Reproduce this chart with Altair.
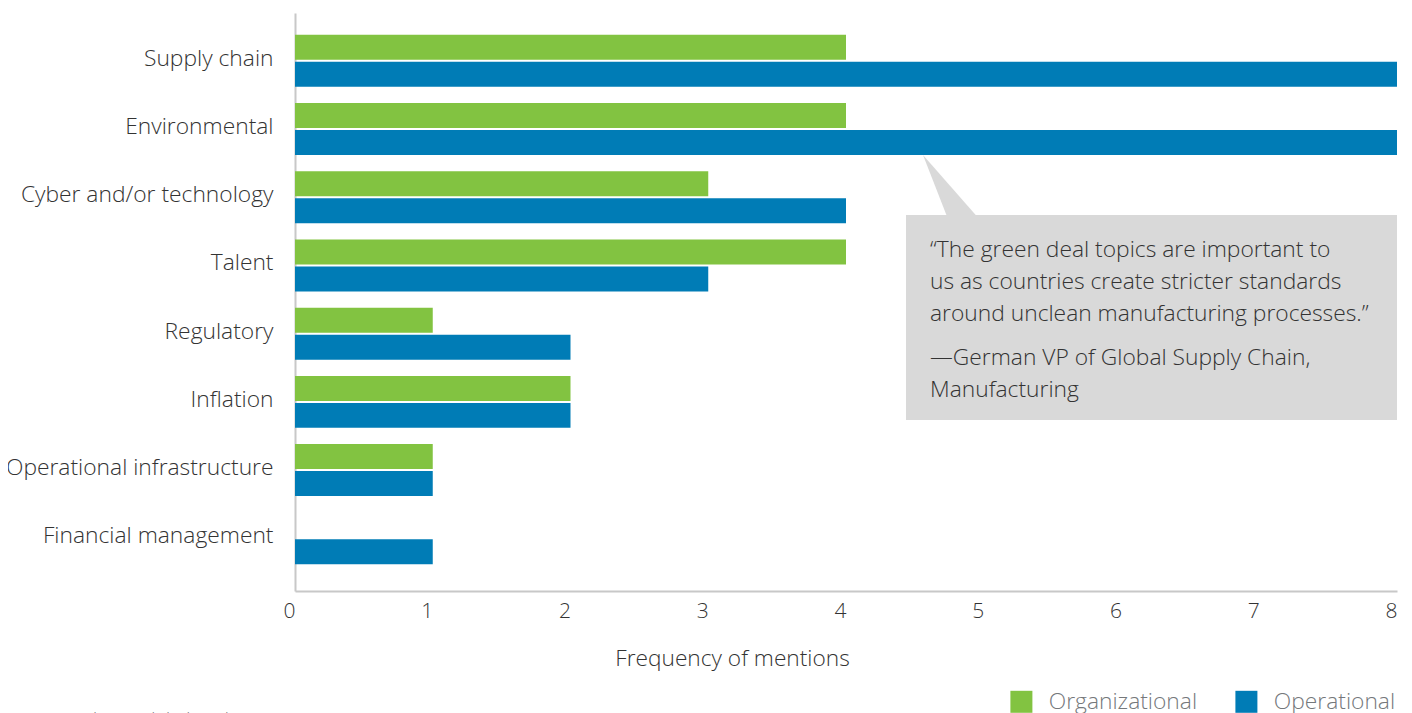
import altair as alt
import pandas as pd

categories = ["Supply chain", "Environmental", "Cyber and/or technology", "Talent",
              "Regulatory", "Inflation", "Operational infrastructure", "Financial management"]
organizational = [4, 4, 3, 4, 1, 2, 1, 0]
operational = [8, 8, 4, 3, 2, 2, 1, 1]
series = ["Organizational", "Operational"]
colors = ["#82c341", "#007cb6"]
x_ticks = [0, 1, 2, 3, 4, 5, 6, 7, 8]

quote_lines = ["“The green deal topics are important to",
               "us as countries create stricter standards",
               "around unclean manufacturing processes.”"]
attribution_lines = ["—German VP of Global Supply Chain,", "Manufacturing"]
source_text = "Source: Deloitte Global analysis."

rows = []
for c, o, p in zip(categories, organizational, operational):
    if o > 0:
        rows.append({"category": c, "series": "Organizational", "value": o})
    if p > 0:
        rows.append({"category": c, "series": "Operational", "value": p})
df = pd.DataFrame(rows)

FONT = "Open Sans"
TEXT = "#333333"

bars = alt.Chart(df).mark_bar().encode(
    x=alt.X("value:Q",
            scale=alt.Scale(domain=[0, 8], nice=False, zero=True),
            axis=alt.Axis(values=x_ticks, title="Frequency of mentions", grid=False, ticks=False,
                          domainColor="#c8c8c8", domainWidth=2,
                          labelFont=FONT, labelFontSize=21, labelFontWeight=300, labelColor=TEXT,
                          labelPadding=9, labelOffset=-6, labelFlush=False,
                          titleFont=FONT, titleFontSize=22.7, titleFontWeight=300, titleColor=TEXT,
                          titleX=437, titleY=74, titleBaseline="alphabetic", titleAlign="center")),
    y=alt.Y("category:N", sort=categories,
            scale=alt.Scale(domain=categories, paddingInner=0.238, paddingOuter=0.356, align=0.45),
            axis=alt.Axis(title=None, ticks=False, domainColor="#c8c8c8", domainWidth=2,
                          labelFont=FONT, labelFontSize=22.8, labelFontWeight=300, labelColor=TEXT,
                          labelPadding=22, labelLimit=400, labelOffset=-2)),
    yOffset=alt.YOffset("series:N", sort=series,
                        scale=alt.Scale(domain=series, paddingInner=0.074)),
    color=alt.Color("series:N",
                    scale=alt.Scale(domain=series, range=colors),
                    legend=alt.Legend(title=None, orient="none", direction="horizontal",
                                      legendX=715, legendY=677, padding=0,
                                      symbolType="square", symbolSize=484, symbolStrokeWidth=0,
                                      symbolOpacity=1,
                                      labelFont=FONT, labelFontSize=22.8, labelFontWeight=300,
                                      labelColor="#75787b", labelOffset=16, columnPadding=37)),
)

one = pd.DataFrame({"k": [0]})

box = alt.Chart(one).mark_rect(color="#d9d9d9").encode(
    x=alt.value(611), x2=alt.value(1102), y=alt.value(202), y2=alt.value(407))

pointer = alt.Chart(one).mark_point(
    shape="M-0.9,-1L-0.1,1.05L0.9,1.05Z", filled=True, size=3600,
    color="#d9d9d9", opacity=1, strokeWidth=0).encode(
    x=alt.value(655), y=alt.value(172))

quote = alt.Chart(one).mark_text(
    text=quote_lines, align="left", baseline="alphabetic", font=FONT, fontSize=22.8,
    fontWeight=300, color=TEXT, lineHeight=32).encode(x=alt.value(635), y=alt.value(244))

attribution = alt.Chart(one).mark_text(
    text=attribution_lines, align="left", baseline="alphabetic", font=FONT, fontSize=22.8,
    fontWeight=300, color=TEXT, lineHeight=32).encode(x=alt.value(635), y=alt.value(352))

source = alt.Chart(one).mark_text(
    text=source_text, align="left", baseline="top", font=FONT, fontSize=18,
    fontWeight=300, color="#75787b").encode(x=alt.value(-290), y=alt.value(699))

chart = alt.layer(bars, box, pointer, quote, attribution, source).properties(
    width=1102, height=578,
    autosize=alt.AutoSizeParams(type="none"),
    padding={"left": 287, "top": 5, "right": 7, "bottom": 130},
).configure_view(stroke=None)

chart.save("out.html", embed_options={"renderer": "svg", "actions": False})
